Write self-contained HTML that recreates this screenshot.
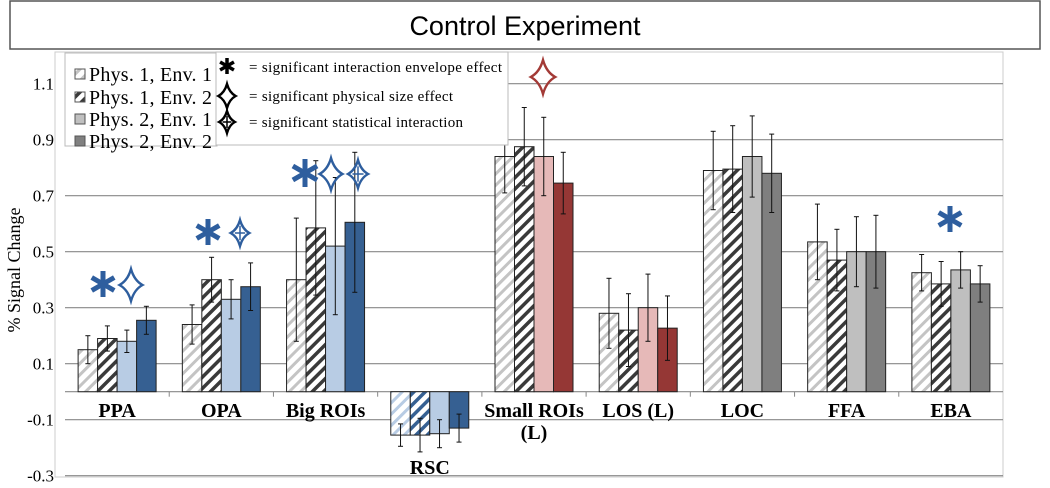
<!DOCTYPE html>
<html><head><meta charset="utf-8"><style>
body{margin:0;background:#fff;width:1050px;height:483px;overflow:hidden;font-family:"Liberation Serif",serif}
svg text{font-family:"Liberation Serif",serif}
</style></head><body>
<svg id="chart" width="1050" height="483" viewBox="0 0 1050 483" xmlns="http://www.w3.org/2000/svg">
<defs>
<pattern id="hL" patternUnits="userSpaceOnUse" width="8" height="8" patternTransform="rotate(45)"><rect width="8" height="8" fill="#fff"/><rect width="3" height="8" fill="#c4c4c4"/></pattern>
<pattern id="hD" patternUnits="userSpaceOnUse" width="8" height="8" patternTransform="rotate(45)"><rect width="8" height="8" fill="#fff"/><rect width="3.5" height="8" fill="#3a3a3a"/></pattern>
<pattern id="hLB" patternUnits="userSpaceOnUse" width="8" height="8" patternTransform="rotate(45)"><rect width="8" height="8" fill="#fff"/><rect width="3" height="8" fill="#b8cce4"/></pattern>
<pattern id="hDB" patternUnits="userSpaceOnUse" width="8" height="8" patternTransform="rotate(45)"><rect width="8" height="8" fill="#fff"/><rect width="3.5" height="8" fill="#366092"/></pattern>
</defs>
<rect x="10" y="1" width="1030" height="48" fill="#fff" stroke="#555" stroke-width="1.5"/>
<text x="525" y="35" text-anchor="middle" font-size="27" style="font-family:'Liberation Sans',sans-serif">Control Experiment</text>
<rect x="55" y="52" width="948" height="425" fill="none" stroke="#ccc"/>
<g id="grid"></g><g id="bars"></g><g id="labels"></g><g id="marks"></g>
<text transform="translate(20,270) rotate(-90)" text-anchor="middle" font-size="18">% Signal Change</text>
<g>
<rect x="65" y="53" width="152" height="93" fill="#fff" stroke="#bbb"/>
<rect x="75" y="69" width="10" height="10" fill="url(#hL)" stroke="#555"/><text x="89" y="81" font-size="20" textLength="123">Phys. 1, Env. 1</text>
<rect x="75" y="92" width="10" height="10" fill="url(#hD)" stroke="#555"/><text x="89" y="104" font-size="20" textLength="123">Phys. 1, Env. 2</text>
<rect x="75" y="114" width="10" height="10" fill="#c0c0c0" stroke="#555"/><text x="89" y="126" font-size="20" textLength="123">Phys. 2, Env. 1</text>
<rect x="75" y="136" width="10" height="10" fill="#808080" stroke="#555"/><text x="89" y="148" font-size="20" textLength="123">Phys. 2, Env. 2</text>
</g>
<g>
<rect x="216" y="52" width="292" height="93" fill="#fff" stroke="#bbb"/>
<g id="legA"></g>
<text x="249" y="72" font-size="15" textLength="253">= significant interaction envelope effect</text>
<g id="legD"></g>
<text x="249" y="101" font-size="15" textLength="204">= significant physical size effect</text>
<g id="legX"></g>
<text x="249" y="127" font-size="15" textLength="214">= significant statistical interaction</text>
</g>
</svg>
<script>
const categories=["PPA","OPA","Big ROIs","RSC","Small ROIs","LOS (L)","LOC","FFA","EBA"];
const p1e1=[0.15,0.24,0.40,-0.155,0.84,0.28,0.79,0.535,0.425];
const p1e2=[0.19,0.40,0.585,-0.155,0.875,0.22,0.795,0.47,0.385];
const p2e1=[0.18,0.33,0.52,-0.15,0.84,0.30,0.84,0.50,0.435];
const p2e2=[0.255,0.375,0.605,-0.13,0.745,0.227,0.78,0.50,0.385];
const e1=[0.05,0.07,0.22,0.04,0.13,0.125,0.14,0.135,0.065];
const e2=[0.045,0.08,0.24,0.06,0.14,0.13,0.155,0.11,0.08];
const e3=[0.04,0.07,0.245,0.05,0.14,0.12,0.145,0.125,0.065];
const e4=[0.05,0.085,0.25,0.05,0.11,0.115,0.14,0.13,0.065];
const yTicks=[-0.3,-0.1,0.1,0.3,0.5,0.7,0.9,1.1];
const palette=["blue","blue","blue","blue","red","red","gray","gray","gray"];
const NS="http://www.w3.org/2000/svg";
const X0=65,X1=1003,slot=(X1-X0)/categories.length;
const y=v=>391.7-v*280;
function mk(tag,at,parent){const e=document.createElementNS(NS,tag);for(const k in at)e.setAttribute(k,at[k]);parent.appendChild(e);return e;}
const grid=document.getElementById('grid');
yTicks.forEach(t=>{
 const l=mk('line',{x1:X0,x2:X1,y1:y(t),y2:y(t),stroke:'#888','stroke-width':1.2},grid);
 
 
 const tx=mk('text',{x:54,y:y(t)+6,'text-anchor':'end','font-size':17},grid);tx.textContent=t.toFixed(1);
 
 
});
const ax=mk('line',{x1:X0,x2:X1,y1:y(0),y2:y(0),stroke:'#888','stroke-width':1.2},grid);


for(let i=1;i<categories.length;i++)mk('line',{x1:X0+slot*i,x2:X0+slot*i,y1:y(0),y2:y(0)+5,stroke:'#888'},grid);
const fills={blue:['#b8cce4','#366092'],red:['#e6b9b8','#953735'],gray:['#bfbfbf','#7f7f7f']};
const bars=document.getElementById('bars');
const series=[p1e1,p1e2,p2e1,p2e2],errs=[e1,e2,e3,e4];
const bw=19.5;
categories.forEach((c,i)=>{
 const gx=X0+slot*i+(slot-4*bw)/2;
 series.forEach((s,j)=>{
  const v=s[i];let f;
  if(j==0)f=(c=="RSC")?'url(#hLB)':'url(#hL)';
  else if(j==1)f=(c=="RSC")?'url(#hDB)':'url(#hD)';
  else f=fills[palette[i]][j-2];
  const x=gx+j*bw,top=Math.min(y(v),y(0)),h=Math.abs(y(v)-y(0));
  const r=mk('rect',{x:x,y:top,width:bw,height:h,fill:f,stroke:'#222','stroke-width':1},bars);
  
  
  const cx=x+bw/2,e=errs[j][i];
  mk('line',{x1:cx,x2:cx,y1:y(v+e),y2:y(v-e),stroke:'#111','stroke-width':1},bars);
  mk('line',{x1:cx-2.5,x2:cx+2.5,y1:y(v+e),y2:y(v+e),stroke:'#111'},bars);
  mk('line',{x1:cx-2.5,x2:cx+2.5,y1:y(v-e),y2:y(v-e),stroke:'#111'},bars);
 });
});
const labels=document.getElementById('labels');
categories.forEach((c,i)=>{
 const cx=X0+slot*(i+0.5);
 const t=mk('text',{x:cx,y:c=="RSC"?474:417,'text-anchor':'middle','font-size':20,'font-weight':'bold'},labels);
 t.textContent=c;
 
 
 if(c=="Small ROIs"){const t2=mk('text',{x:cx,y:439,'text-anchor':'middle','font-size':20,'font-weight':'bold'},labels);t2.textContent="(L)";}
});
function star(cx,cy,s,col,cross,parent){
 const w=s*0.72,k=0.28;
 const d=`M${cx},${cy-s} Q${cx+w*k},${cy-s*k} ${cx+w},${cy} Q${cx+w*k},${cy+s*k} ${cx},${cy+s} Q${cx-w*k},${cy+s*k} ${cx-w},${cy} Q${cx-w*k},${cy-s*k} ${cx},${cy-s}Z`;
 const g=mk('g',{},parent);
 mk('path',{d:d,fill:'none',stroke:col,'stroke-width':2.4},g);
 if(cross){mk('line',{x1:cx,x2:cx,y1:cy-s*0.55,y2:cy+s*0.55,stroke:col,'stroke-width':1.5},g);mk('line',{x1:cx-w*0.55,x2:cx+w*0.55,y1:cy,y2:cy,stroke:col,'stroke-width':1.5},g);}
 return g;
}
function ast(cx,cy,r,sw,col,parent){
 const g=mk('g',{},parent);
 for(let a=0;a<3;a++){const t=Math.PI/2+a*Math.PI/3;mk('line',{x1:cx+r*Math.cos(t),y1:cy+r*Math.sin(t),x2:cx-r*Math.cos(t),y2:cy-r*Math.sin(t),stroke:col,'stroke-width':sw},g);}
 return g;
}
const marks=document.getElementById('marks');const B='#2e5e9e',R='#a33a36';
ast(103,284,13,5,B,marks);star(131,285,16,B,false,marks);
ast(208,232,13,5,B,marks);star(240,233,13,B,true,marks);
ast(305,173,14,5,B,marks);star(331,174,16,B,false,marks);star(358,174,14,B,true,marks);
star(543,77,17,R,false,marks);
ast(950,219,13,5,B,marks);
ast(227,66,8,3.5,'#000',document.getElementById('legA'));
star(227,96,12,'#000',false,document.getElementById('legD'));
star(227,122,11,'#000',true,document.getElementById('legX'));
</script>
</body></html>
